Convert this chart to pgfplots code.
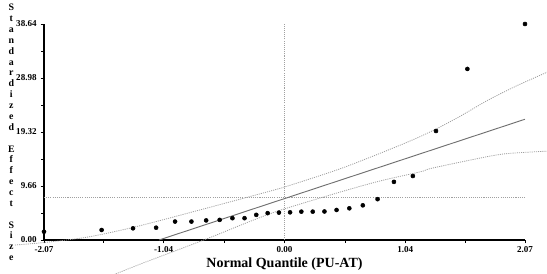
\documentclass[border=0pt]{standalone}
\usepackage{pgfplots}
\pgfplotsset{compat=1.18}
\usepackage{fontspec}
\setmainfont{Liberation Serif}
\definecolor{bandgray}{HTML}{A0A0A0}
\definecolor{linegray}{HTML}{707070}
\begin{document}
\begin{tikzpicture}
\begin{axis}[
  at={(0pt,0pt)}, anchor=south west,
  scale only axis, width=360.75pt, height=162pt,
  xmin=-2.07, xmax=2.07, ymin=0, ymax=38.64,
  axis x line*=bottom, axis y line*=left,
  axis line style={line width=0.8pt, black},
  xtick={-2.07,-1.04,0,1.04,2.07},
  xticklabels={-2.07,-1.04,0.00,1.04,2.07},
  minor xtick={-1.555,-0.52,0.52,1.555},
  ytick={0,9.66,19.32,28.98,38.64},
  yticklabels={0.00,9.66,19.32,28.98,38.64},
  minor ytick={4.83,14.49,24.15,33.81},
  tick align=outside, major tick length=2.5pt, minor tick length=2pt,
  tick style={black, line width=0.6pt},
  ticklabel style={font=\fontsize{6.8}{7}\selectfont\bfseries},
  xticklabel style={yshift=1pt},
  yticklabel style={xshift=0.5pt},
  xlabel={Normal Quantile (PU-AT)},
  xlabel style={font=\fontsize{10.5}{12}\selectfont\bfseries, yshift=3pt},
  clip=false,
]
% mean line and zero line
\addplot[bandgray, line width=0.6pt, dash pattern=on 0.8pt off 0.8pt] coordinates {(-2.07,7.64) (2.07,7.64)};
\addplot[bandgray, line width=0.6pt, dash pattern=on 0.8pt off 0.8pt] coordinates {(0,0) (0,38.64)};
% confidence bands
\addplot[bandgray, line width=0.6pt, dash pattern=on 0.8pt off 0.8pt, smooth] coordinates {
(-2.32,-0.9) (-2.07,-0.45) (-1.73,0.4) (-1.44,1.6) (-1.16,3.0) (-0.67,5.7) (-0.15,8.6) (0.05,9.8) (0.5,12.9) (1.0,17.0) (1.26,19.4) (1.5,22.0) (1.75,25.0) (2.0,27.6) (2.27,30.1)};
\addplot[bandgray, line width=0.6pt, dash pattern=on 0.8pt off 0.8pt, smooth] coordinates {
(-1.47,-6.2) (-1.19,-3.9) (-0.67,0.2) (-0.3,3.3) (-0.03,5.37) (0.5,8.7) (0.83,10.6) (1.17,12.2) (1.26,12.8) (1.6,14.3) (1.89,15.4) (2.27,15.9)};
% fitted line
\addplot[linegray, line width=0.7pt] coordinates {(-1.08,0) (2.07,21.6)};
% data
\addplot[only marks, mark=*, mark size=1.5pt, black] coordinates {
(-2.070,1.48) (-1.574,1.79) (-1.304,2.09) (-1.105,2.2) (-0.942,3.3) (-0.801,3.3)
(-0.674,3.5) (-0.558,3.6) (-0.448,3.9) (-0.344,3.9) (-0.243,4.5) (-0.145,4.8)
(-0.048,4.9) (0.048,4.95) (0.145,5.07) (0.243,5.07) (0.344,5.1) (0.448,5.37)
(0.558,5.67) (0.674,6.2) (0.801,7.3) (0.942,10.4) (1.105,11.45) (1.304,19.5)
(1.574,30.6) (2.070,38.64)};
\end{axis}
\node[anchor=north, align=center, font=\fontsize{7.4}{8.15}\selectfont\bfseries, inner sep=0pt]
  at (-24.5pt,177pt) {S\\t\\a\\n\\d\\a\\r\\d\\i\\z\\e\\d\\\mbox{}\\E\\f\\f\\e\\c\\t\\\mbox{}\\S\\i\\z\\e};
\pgfresetboundingbox
\path (-33pt,-25.5pt) rectangle (377.25pt,180pt);
\end{tikzpicture}
\end{document}
